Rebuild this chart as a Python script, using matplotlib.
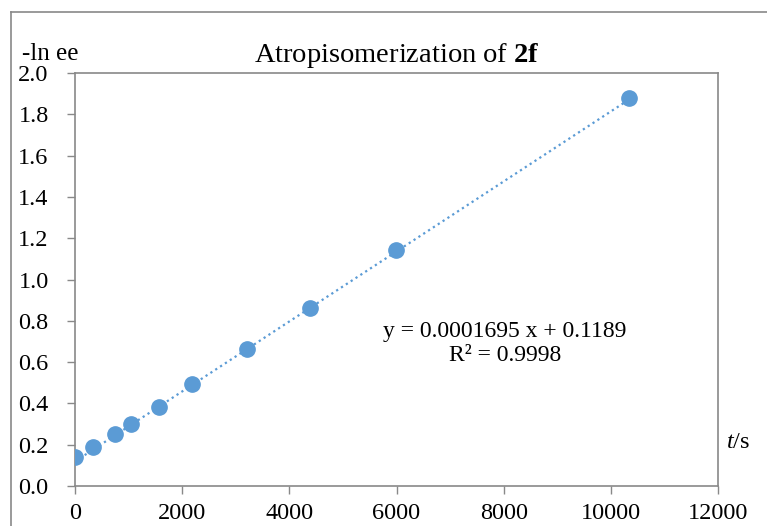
import numpy as np
import matplotlib.pyplot as plt
from matplotlib.lines import Line2D
from matplotlib.ticker import FormatStrFormatter

plt.rcParams['font.family'] = ['Liberation Serif', 'DejaVu Serif']
plt.rcParams['mathtext.fontset'] = 'custom'
plt.rcParams['mathtext.rm'] = 'Liberation Serif'
plt.rcParams['mathtext.it'] = 'Liberation Serif:italic'
plt.rcParams['mathtext.bf'] = 'Liberation Serif:bold'

# time (s) and -ln ee
t = [0, 336, 746, 1045, 1568, 2184, 3210, 4386, 5991, 10340]
lnee = [0.140, 0.189, 0.252, 0.300, 0.383, 0.494, 0.663, 0.862, 1.143, 1.879]

slope = 0.0001695
intercept = 0.1189
r2 = 0.9998

blue = '#5B9BD5'
gray = '#898989'

fig = plt.figure(figsize=(7.67, 5.26), dpi=100)
ax = fig.add_axes([75 / 767, 40 / 526, 643 / 767, 413 / 526])

# linear trendline
xf = np.array([min(t), max(t)])
ax.plot(xf, slope * xf + intercept, linestyle=(0, (1, 1.6)), color=blue, linewidth=1.6, zorder=2)
ax.plot(t, lnee, 'o', color=blue, markersize=11, zorder=3)

ax.set_xlim(0, 12000)
ax.set_ylim(0, 2.0)
ax.set_xticks(np.arange(0, 12001, 2000))
ax.set_yticks(np.arange(0, 2.01, 0.2))
ax.yaxis.set_major_formatter(FormatStrFormatter('%.1f'))
ax.tick_params(labelsize=17.5, color=gray, length=6, width=1, direction='out')
ax.tick_params(axis='x', pad=6)
ax.tick_params(axis='y', pad=13)
for s in ax.spines.values():
    s.set_color(gray)
    s.set_linewidth(1.2)

ax.set_title('Atropisomerization of $\\mathbf{2f}$', fontsize=20.5, pad=8)
fig.text(22 / 767, 1 - 60 / 526, '-ln ee', fontsize=18, ha='left', va='baseline')
ax.text(1.013, 0.105, '$t$/s', transform=ax.transAxes, fontsize=17.5, ha='left', va='center')
ax.text(0.669, 0.346, 'y = 0.0001695 x + 0.1189\nR² = 0.9998', transform=ax.transAxes,
        fontsize=17, ha='center', va='center', linespacing=1.2)

# outer chart frame
fig.add_artist(Line2D([11 / 767, 11 / 767], [0, 1 - 12 / 526], color=gray, linewidth=1.2))
fig.add_artist(Line2D([11 / 767, 1], [1 - 12 / 526, 1 - 12 / 526], color=gray, linewidth=1.2))

fig.savefig('out.png', dpi=100)
